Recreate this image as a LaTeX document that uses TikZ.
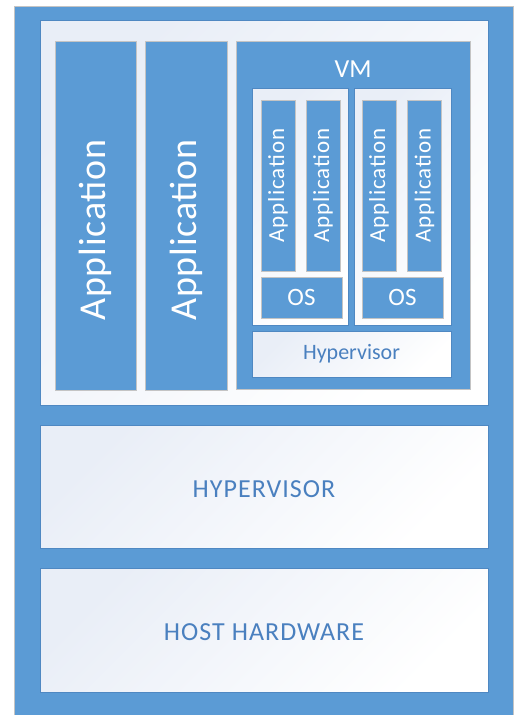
\documentclass[tikz,border=0pt]{standalone}
\usepackage{fontspec}
\setmainfont{Carlito}
\definecolor{boxblue}{HTML}{5B9BD5}
\definecolor{txtblue}{HTML}{4A80BF}
\definecolor{panelblue}{HTML}{E9EEF7}
\definecolor{edgegray}{HTML}{C4C4C4}
\definecolor{edgeblue}{HTML}{4F88C2}
\tikzset{
  blk/.style={fill=boxblue, draw=edgegray, line width=1pt, inner sep=0pt},
  panel/.style={top color=panelblue, bottom color=white,
    shading angle=45, draw=edgeblue, line width=0.8pt, inner sep=0pt},
  wtxt/.style={text=white, inner sep=0pt},
  btxt/.style={text=txtblue, inner sep=0pt}
}
\newcommand{\fs}[1]{\fontsize{#1}{#1}\selectfont}
\newcommand{\wide}[1]{\addfontfeatures{LetterSpace=#1}}
\begin{document}
\begin{tikzpicture}[x=1pt, y=-1pt]
  \useasboundingbox (0,0) rectangle (517,715);
  % outer frame
  \fill[white] (0,0) rectangle (517,715);
  \draw[fill=boxblue, draw=edgegray, line width=1pt] (14,6) rectangle (513,718);
  % host side panel
  \node[panel, minimum width=448pt, minimum height=385pt] (host) at (264,212.5) {};
  \node[blk, minimum width=81pt, minimum height=349pt] (app1) at (95.5,215.5) {};
  \node[blk, minimum width=82pt, minimum height=349pt] (app2) at (186,215.5) {};
  \node[wtxt, rotate=90] (app1txt) at (95.5,230) {\fs{38}\wide{2}Application};
  \node[wtxt, rotate=90] (app2txt) at (186,230) {\fs{38}\wide{2}Application};
  % virtual machine
  \node[blk, minimum width=234pt, minimum height=348pt] (vm) at (353,215) {};
  \node[wtxt] (vmtxt) at (353,69) {\fs{26}VM};
  \node[panel, minimum width=96pt, minimum height=237pt] (guestA) at (300,206.5) {};
  \node[panel, minimum width=97pt, minimum height=237pt] (guestB) at (402.5,206.5) {};
  \foreach \nm/\cx in {ga/278, gb/323, gc/379, gd/424.5} {
    \node[blk, minimum width=34pt, minimum height=171pt] (\nm) at (\cx,185.5) {};
    \node[wtxt, rotate=90] (\nm txt) at (\nm) {\fs{23}\wide{4}Application};
  }
  \node[blk, minimum width=81pt, minimum height=41pt] (osA) at (301.5,297.5) {};
  \node[blk, minimum width=81pt, minimum height=41pt] (osB) at (402.5,297.5) {};
  \node[wtxt] (osAtxt) at (osA) {\fs{25}OS};
  \node[wtxt] (osBtxt) at (osB) {\fs{25}OS};
  \node[panel, minimum width=199pt, minimum height=46pt] (hvsmall) at (351.5,354) {};
  \node[btxt] (hvsmalltxt) at (hvsmall) {\fs{22}Hypervisor};
  % lower layers
  \node[panel, minimum width=448pt, minimum height=123pt] (hv) at (264,486.5) {};
  \node[btxt] (hvtxt) at (264,489) {\fs{26}\wide{4}HYPERVISOR};
  \node[panel, minimum width=448pt, minimum height=124pt] (hw) at (264,630) {};
  \node[btxt] (hwtxt) at (264,632) {\fs{26}\wide{4}HOST HARDWARE};
\end{tikzpicture}
\end{document}
